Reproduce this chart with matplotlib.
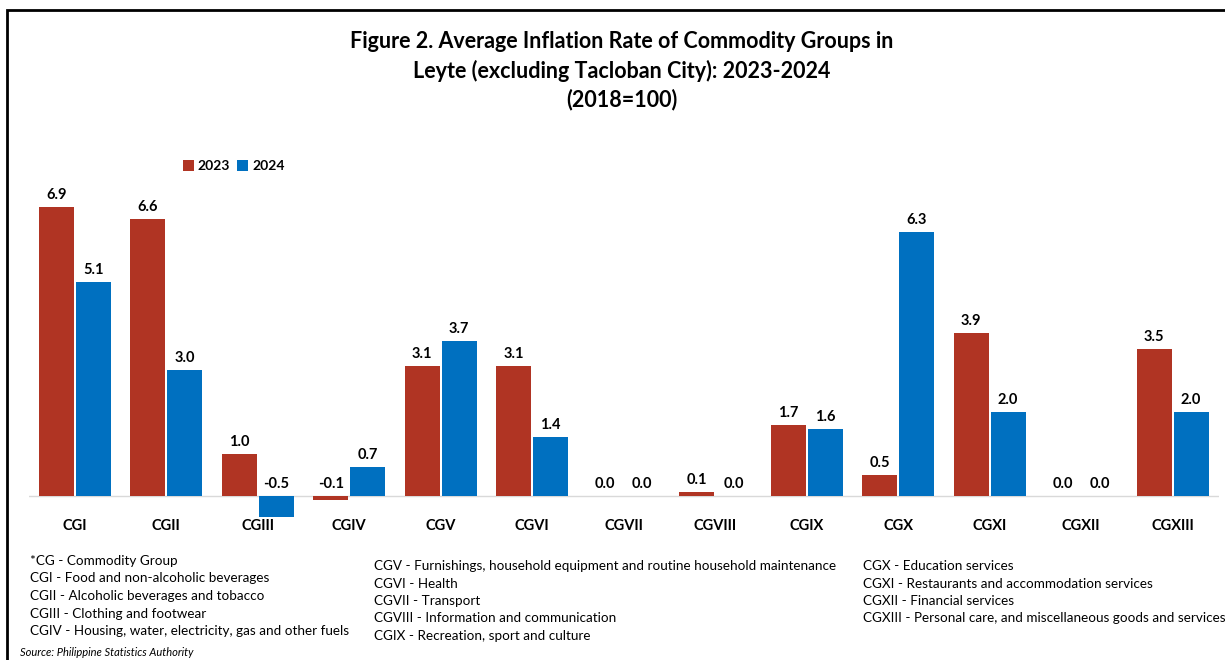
import numpy as np
import matplotlib.pyplot as plt
from matplotlib.patches import Rectangle

groups = ["CGI", "CGII", "CGIII", "CGIV", "CGV", "CGVI", "CGVII",
          "CGVIII", "CGIX", "CGX", "CGXI", "CGXII", "CGXIII"]
rate_2023 = [6.9, 6.6, 1.0, -0.1, 3.1, 3.1, 0.0, 0.1, 1.7, 0.5, 3.9, 0.0, 3.5]
rate_2024 = [5.1, 3.0, -0.5, 0.7, 3.7, 1.4, 0.0, 0.0, 1.6, 6.3, 2.0, 0.0, 2.0]

notes_col1 = ["*CG - Commodity Group",
              "CGI - Food and non-alcoholic beverages",
              "CGII - Alcoholic beverages and tobacco",
              "CGIII - Clothing and footwear",
              "CGIV - Housing, water, electricity, gas and other fuels"]
notes_col2 = ["CGV - Furnishings, household equipment and routine household maintenance",
              "CGVI - Health",
              "CGVII - Transport",
              "CGVIII - Information and communication",
              "CGIX - Recreation, sport and culture"]
notes_col3 = ["CGX - Education services",
              "CGXI - Restaurants and accommodation services",
              "CGXII - Financial services",
              "CGXIII - Personal care, and miscellaneous goods and services"]

RED = "#B03423"
BLUE = "#0070C0"
plt.rcParams["font.family"] = ["Lato", "DejaVu Sans"]

W, H = 1225, 660
fig = plt.figure(figsize=(W / 100, H / 100), dpi=100)
fig.patches.append(Rectangle((6.5 / W, -0.1), 1.2, 1 - 9.5 / H + 0.1, transform=fig.transFigure,
                             fill=False, edgecolor="black", linewidth=2))

# axes box in pixels: x 29..1218.5, y 177.6..521.1
ax = fig.add_axes([29 / W, 1 - 521.1 / H, 1189.5 / W, (521.1 - 177.6) / H])
x = np.arange(len(groups))
bw = 0.383
off = bw / 2 + 0.01
ax.bar(x - off, rate_2023, bw, color=RED, label="2023")
ax.bar(x + off, rate_2024, bw, color=BLUE, label="2024")

for xi, v in zip(x, rate_2023):
    ax.text(xi - off, max(v, 0) + 0.12, f"{v:.1f}", ha="center", va="bottom",
            fontsize=10.5, fontweight="bold")
for xi, v in zip(x, rate_2024):
    ax.text(xi + off, max(v, 0) + 0.12, f"{v:.1f}", ha="center", va="bottom",
            fontsize=10.5, fontweight="bold")

ax.axhline(0, color="#D9D9D9", linewidth=1, zorder=0)
ax.set_xlim(-0.5, len(groups) - 0.5)
ax.set_ylim(-0.6, 7.6)
ax.set_yticks([])
ax.set_xticks([])
for s in ax.spines.values():
    s.set_visible(False)
for xi, g in zip(x, groups):
    ax.text(xi, -0.55, g, ha="center", va="top", fontsize=10.5, fontweight="bold")

fig.legend(*ax.get_legend_handles_labels(), loc="center left",
           bbox_to_anchor=(170 / W, 1 - 166 / H), ncol=2, frameon=False,
           prop={"weight": "bold", "size": 10}, handlelength=0.8, handleheight=0.8,
           handletextpad=0.3, columnspacing=0.5)

title_lines = ["Figure 2. Average Inflation Rate of Commodity Groups in",
               "Leyte (excluding Tacloban City): 2023-2024",
               "(2018=100)"]
for i, t in enumerate(title_lines):
    fig.text(622 / W, 1 - (42 + 29 * i) / H, t, ha="center", va="center",
             fontsize=15.5, fontweight="bold")

for cx, y0, lines in [(30, 561, notes_col1), (374, 566, notes_col2), (863, 566, notes_col3)]:
    for i, t in enumerate(lines):
        fig.text(cx / W, 1 - (y0 + i * 17.5) / H, t, ha="left", va="center", fontsize=9.7)

fig.text(20 / W, 1 - 652 / H, "Source: Philippine Statistics Authority", ha="left",
         va="center", fontsize=8, style="italic")

fig.savefig("out.png", dpi=100)
